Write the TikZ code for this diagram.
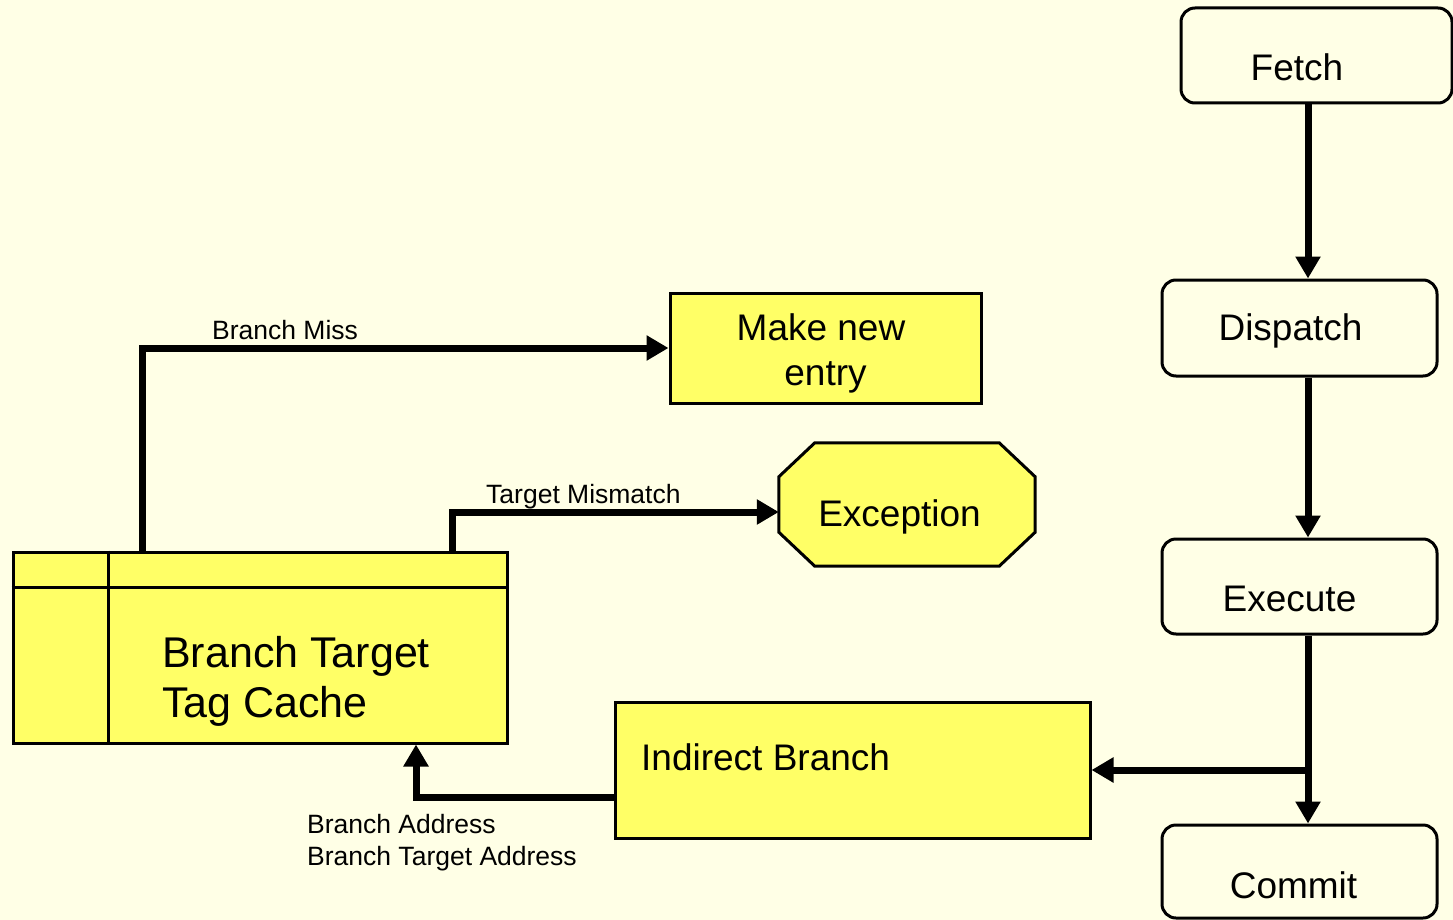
\documentclass[tikz,border=0pt]{standalone}
\usepackage{fontspec}
\setmainfont{Liberation Sans}
\usetikzlibrary{arrows.meta,calc}
\definecolor{paper}{RGB}{255,255,230}
\definecolor{boxfill}{RGB}{255,255,102}
\tikzset{
  stage/.style={draw,line width=3pt,rounded corners=14pt,inner sep=0pt},
  unit/.style={draw,fill=boxfill,line width=3pt,inner sep=0pt},
  bigtext/.style={font=\fontsize{37}{44}\selectfont,inner sep=0pt,anchor=base},
  hugetext/.style={font=\fontsize{43}{51}\selectfont,inner sep=0pt,anchor=base west},
  smalltext/.style={font=\fontsize{26.5}{31}\selectfont,inner sep=0pt,anchor=base west},
  wire/.style={line width=7pt,line join=miter},
  flow/.style={wire,-{Triangle[length=22pt,width=24pt]}}
}
\begin{document}
\begin{tikzpicture}[x=1pt,y=-1pt]
\fill[paper] (0,0) rectangle (1453,920);
\useasboundingbox (0,0) rectangle (1453,920);

% pipeline stages
\node[stage,minimum width=271pt,minimum height=95pt] (fetch) at (1316.5,55.5) {};
\node[stage,minimum width=275pt,minimum height=96pt] (dispatch) at (1299.5,328) {};
\node[stage,minimum width=275pt,minimum height=95pt] (execute) at (1299.5,586.5) {};
\node[stage,minimum width=275pt,minimum height=93pt] (commit) at (1299.5,871.5) {};
\node[bigtext] (fetch-t) at (1297,81) {Fetch};
\node[bigtext] (dispatch-t) at (1290.5,340) {Dispatch};
\node[bigtext] (execute-t) at (1289.5,611) {Execute};
\node[bigtext] (commit-t) at (1293.5,898) {Commit};

% functional blocks
\node[unit,minimum width=311pt,minimum height=110pt] (mne) at (825.5,348) {};
\node[bigtext] (mne-t1) at (821,340) {Make new};
\node[bigtext] (mne-t2) at (825.5,385) {entry};

% exception octagon: an invisible frame gives the anchors, the outline is cut at the corners
\node[inner sep=0pt,minimum width=256pt,minimum height=123pt] (exc) at (907,504.5) {};
\draw[fill=boxfill,line width=3pt,line join=miter]
  ($(exc.north west)+(36,0)$) -- ($(exc.north east)+(-36,0)$)
  -- ($(exc.north east)+(0,34)$) -- ($(exc.south east)+(0,-34)$)
  -- ($(exc.south east)+(-36,0)$) -- ($(exc.south west)+(36,0)$)
  -- ($(exc.south west)+(0,-34)$) -- ($(exc.north west)+(0,34)$) -- cycle;
\node[bigtext] (exc-t) at (899.5,526) {Exception};

\node[unit,minimum width=475pt,minimum height=136pt] (ib) at (852.5,770) {};
\node[bigtext,anchor=base west] (ib-t) at (641,770) {Indirect Branch};

% branch target tag cache with its table rules
\node[unit,minimum width=494pt,minimum height=191pt] (btb) at (260,647.5) {};
\draw[line width=3pt] ($(btb.north west)+(0,37)$) -- ($(btb.north east)+(0,37)$);
\draw[line width=3pt] ($(btb.north west)+(97,0)$) -- ($(btb.south west)+(97,0)$);
\node[hugetext] (btb-t1) at (162,667) {Branch Target};
\node[hugetext] (btb-t2) at (162,717) {Tag Cache};

% pipeline flow
\coordinate (spine) at (1308,0);
\coordinate (split) at (1308,770);
\draw[flow] (fetch.south -| spine) -- (dispatch.north -| spine);
\draw[flow] (dispatch.south -| spine) -- (execute.north -| spine);
\draw[wire] (execute.south -| spine) -- (split);
\draw[flow] (split) -- (commit.north -| spine);
\draw[flow] (split) -- (split -| ib.east);

% cache outcomes
\coordinate (missx) at (142,0);
\draw[flow] (btb.north -| missx) |- (mne.west);
\node[smalltext] (miss-t) at (212,339) {Branch Miss};

\coordinate (mismatch) at (452,512);
\draw[flow] (btb.north -| mismatch) |- (exc.west |- mismatch);
\node[smalltext] (mismatch-t) at (486,503) {Target Mismatch};

% update path back into the cache
\coordinate (ret) at (416,797);
\draw[flow] (ib.west |- ret) -| (btb.south -| ret);
\node[smalltext] (ret-t1) at (307,833) {Branch Address};
\node[smalltext] (ret-t2) at (307,865) {Branch Target Address};
\end{tikzpicture}
\end{document}
